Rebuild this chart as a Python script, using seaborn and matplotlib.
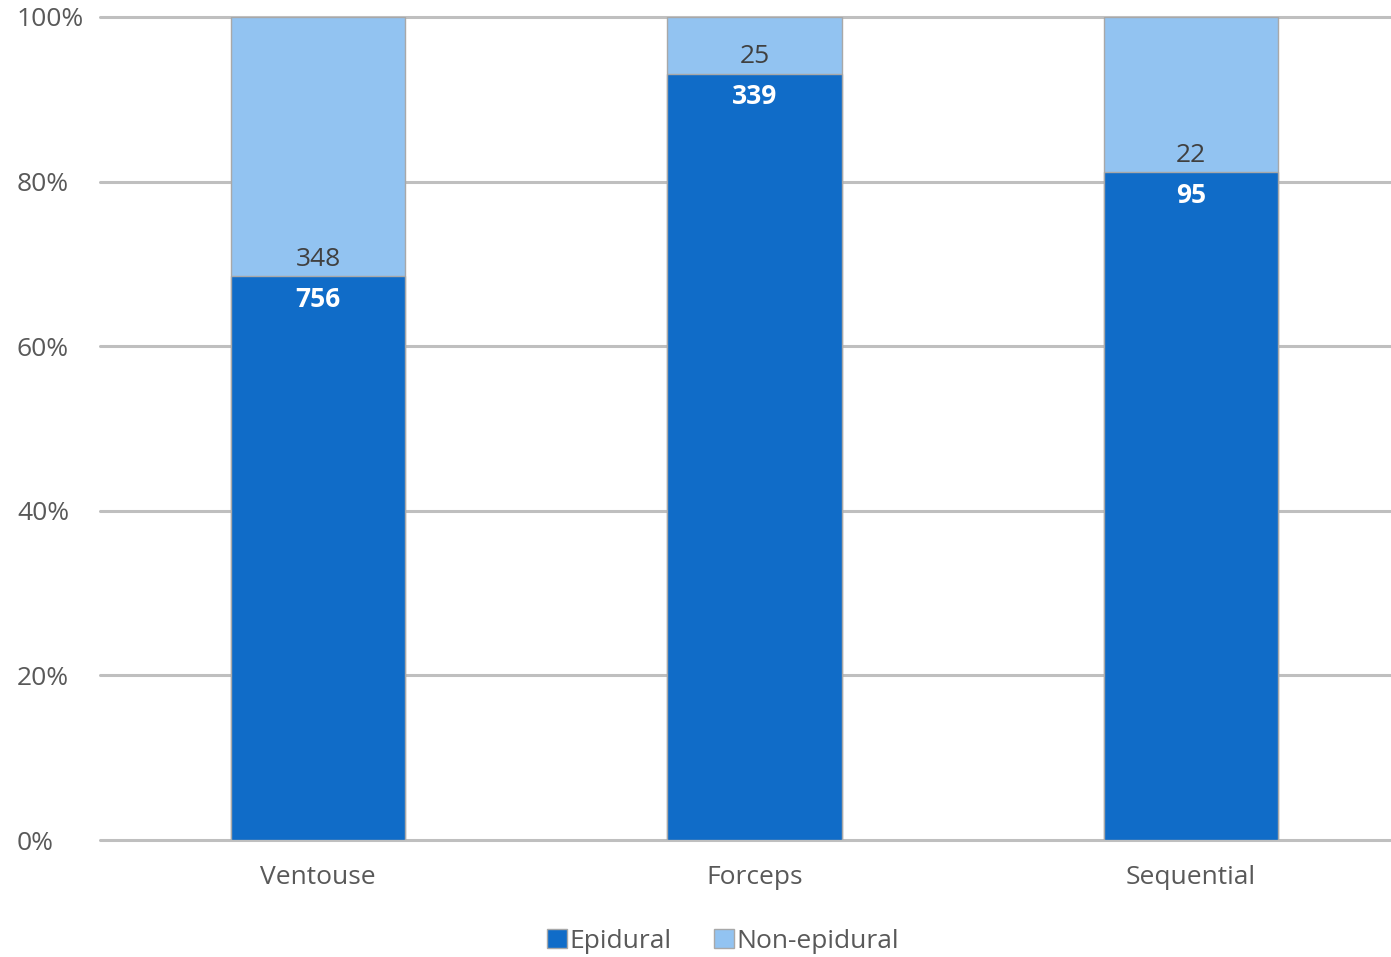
import matplotlib
matplotlib.use("Agg")
import matplotlib.pyplot as plt
import seaborn as sns
import pandas as pd
from matplotlib.patches import Patch
from matplotlib.ticker import FuncFormatter

# Delivery type counts
categories = ["Ventouse", "Forceps", "Sequential"]
epidural = [756, 339, 95]
non_epidural = [348, 25, 22]
series_names = ["Epidural", "Non-epidural"]

dark_blue = "#106CC8"
light_blue = "#92C3F1"
grid_grey = "#BFBFBF"
text_grey = "#595959"
FS = 19

totals = [e + n for e, n in zip(epidural, non_epidural)]
df = pd.DataFrame({
    "category": categories,
    "epi_pct": [100 * e / t for e, t in zip(epidural, totals)],
    "total_pct": [100 * t / t for t in totals],
})

sns.set_theme(style="white")
plt.rcParams["font.family"] = ["Open Sans", "DejaVu Sans"]

fig = plt.figure(figsize=(13.91, 9.57), dpi=100)
ax = fig.add_axes([100 / 1391, 1 - 840 / 957, 1309 / 1391, (840 - 17) / 957])

# Stacked 100% bars: full-height light bar behind, epidural share in front
sns.barplot(data=df, x="category", y="total_pct", color=light_blue, width=0.4,
            saturation=1, edgecolor="#A8A8A8", linewidth=1, ax=ax, zorder=2)
sns.barplot(data=df, x="category", y="epi_pct", color=dark_blue, width=0.4,
            saturation=1, edgecolor="#A8A8A8", linewidth=1, ax=ax, zorder=3)

ax.set_xlim(-0.5, 2.5)
ax.set_ylim(0, 100)
ax.set_yticks(range(0, 101, 20))
ax.yaxis.set_major_formatter(FuncFormatter(lambda v, _: f"{v:.0f}%"))
ax.grid(axis="y", color=grid_grey, linewidth=2.2, zorder=0)
ax.set_axisbelow(True)
for gl in ax.get_ygridlines():
    gl.set_clip_on(False)
for s in ax.spines.values():
    s.set_visible(False)
ax.set_xlabel("")
ax.set_ylabel("")
# left-aligned percentage labels starting near the figure's left edge
ax.tick_params(axis="y", length=0, pad=83 * 0.72, labelsize=FS, labelcolor=text_grey)
ax.tick_params(axis="x", length=0, pad=18, labelsize=FS, labelcolor=text_grey)
for lbl in ax.get_yticklabels():
    lbl.set_horizontalalignment("left")

# Value labels at the boundary between the two segments
for i, (e, n, p) in enumerate(zip(epidural, non_epidural, df["epi_pct"])):
    ax.text(i, p + 0.5, f"{n}", ha="center", va="bottom", fontsize=FS,
            color="#404040", zorder=5)
    ax.text(i, p - 1.2, f"{e}", ha="center", va="top", fontsize=FS,
            color="white", fontweight="bold", zorder=5)

handles = [Patch(facecolor=dark_blue, edgecolor="#A8A8A8", label=series_names[0]),
           Patch(facecolor=light_blue, edgecolor="#A8A8A8", label=series_names[1])]
fig.legend(handles=handles, loc="center", bbox_to_anchor=(723 / 1391, 1 - 941 / 957),
           ncol=2, frameon=False, fontsize=FS, labelcolor=text_grey,
           handlelength=0.75, handleheight=0.75, handletextpad=0.1, columnspacing=1.6)

fig.savefig("out.png", dpi=100)
